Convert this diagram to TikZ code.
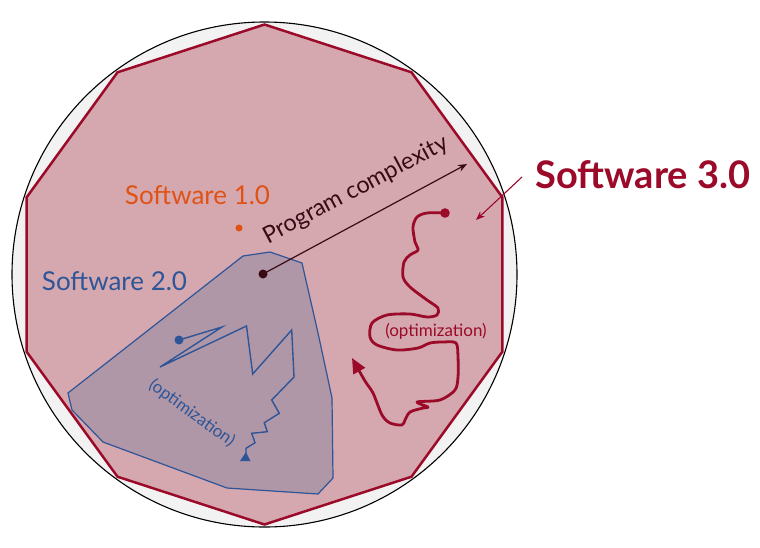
\documentclass[tikz,border=0pt]{standalone}
\usepackage{fontspec}
\setmainfont{Lato}
\usetikzlibrary{arrows.meta}
\definecolor{circfill}{RGB}{242,242,242}
\definecolor{pinkfill}{RGB}{213,168,176}
\definecolor{darkred}{RGB}{155,10,40}
\definecolor{bluefill}{RGB}{176,151,168}
\definecolor{blueline}{RGB}{46,85,151}
\definecolor{orangec}{RGB}{224,82,20}
\definecolor{maroon}{RGB}{58,10,20}
\tikzset{
  decagon/.style={fill=pinkfill, draw=darkred, line width=2.5pt, line join=miter},
  bluepoly/.style={fill=bluefill, draw=blueline, line width=1.2pt, line join=miter},
  bluezig/.style={draw=blueline, line width=1.4pt, line join=miter},
  redpath/.style={draw=darkred, line width=2.8pt, line cap=round, line join=round},
  labelbig/.style={inner sep=0pt, font=\fontsize{26}{30}\selectfont},
  optlabel/.style={inner sep=0pt, font=\fontsize{17}{20}\selectfont},
}
\begin{document}
\begin{tikzpicture}[x=1pt,y=-1pt]
\useasboundingbox (0,0) rectangle (760,547);
\fill[white] (0,0) rectangle (760,547);
% outer circle
\draw[fill=circfill, line width=1.1pt] (264.5,274.5) circle[radius=252.5];
% decagon (Software 3.0)
\draw[decagon] (264.5,24.5) -- (411.5,72.3) -- (502.3,197.2) -- (502.3,351.8) -- (411.5,476.7)
  -- (264.5,524.5) -- (117.5,476.7) -- (26.7,351.8) -- (26.7,197.2) -- (117.5,72.3) -- cycle;
% Software 2.0 polygon
\draw[bluepoly] (68,393) -- (243,256) -- (270,252) -- (302,263) -- (318,333) -- (332,398)
  -- (333,478) -- (318,494) -- (227,488) -- (103,442) -- (72,410) -- cycle;
% labels
\node[labelbig, text=orangec, anchor=base] (sw1) at (197.5,204) {Software 1.0};
\fill[orangec] (239,228) circle[radius=3.5];
\node[labelbig, text=blueline, anchor=base] (sw2) at (114.5,290) {Software 2.0};
\node[inner sep=0pt, text=darkred, anchor=base, font=\bfseries\fontsize{38}{44}\selectfont] (sw3) at (643,188) {Software 3.0};
% Software 3.0 arrow
\coordinate (s3a) at (522,177);
\coordinate (s3b) at (476,220);
\draw[darkred, line width=1.1pt, -{Stealth[length=9pt,width=7pt]}] (s3a) -- (s3b);
% program complexity
\coordinate (pcs) at (263,274);
\coordinate (pct) at (467,164);
\draw[maroon, line width=1.2pt, -{Stealth[length=9pt,width=7pt]}] (pcs) -- (pct);
\fill[maroon] (pcs) circle[radius=4.5];
\node[inner sep=0pt, text=maroon, anchor=base, rotate=28, font=\fontsize{23.5}{28}\selectfont] (pc) at (359,196) {Program complexity};
% blue optimization path
\coordinate (bs) at (179,340);
\coordinate (be) at (246,453);
\fill[blueline] (bs) circle[radius=4.5];
\draw[bluezig] (bs) -- (222,327) -- (160,367) -- (246.5,326) -- (252.7,374) -- (291.7,330) -- (294,377)
  -- (271.7,400) -- (279.3,413.3) -- (264.3,422.7) -- (267.3,431.7) -- (251.7,433.3) -- (255,442.7)
  -- (246,448.3) -- (be);
\fill[blueline] (246,452) -- (250.5,461) -- (240,461) -- cycle;
\node[optlabel, text=blueline, rotate=-36] (bopt) at (192,413) {(optimization)};
% red optimization path
\coordinate (rs) at (445,213);
\fill[darkred] (rs) circle[radius=4.8];
\draw[redpath, -{Triangle[length=15pt,width=13pt]}] plot[smooth, tension=0.5] coordinates {
  (445,213) (427,213) (417,217) (413,227) (415,242) (418,250) (410,255) (404,262) (403,277)
  (410,287) (427,300) (438,308) (437,315) (427,317) (410,314) (387,315) (372,323) (370,337)
  (377,345) (397,350) (418,348) (430,343) (443,342) (456,343) (458,357) (458,377) (455,390)
  (440,400) (417,402) (428,407) (423,408) (410,412) (405,420) (402,425) (390,423) (382,415)
  (373,393) (365,381) (352,358)};
\node[optlabel, text=darkred] (ropt) at (436,331) {(optimization)};
\end{tikzpicture}
\end{document}
